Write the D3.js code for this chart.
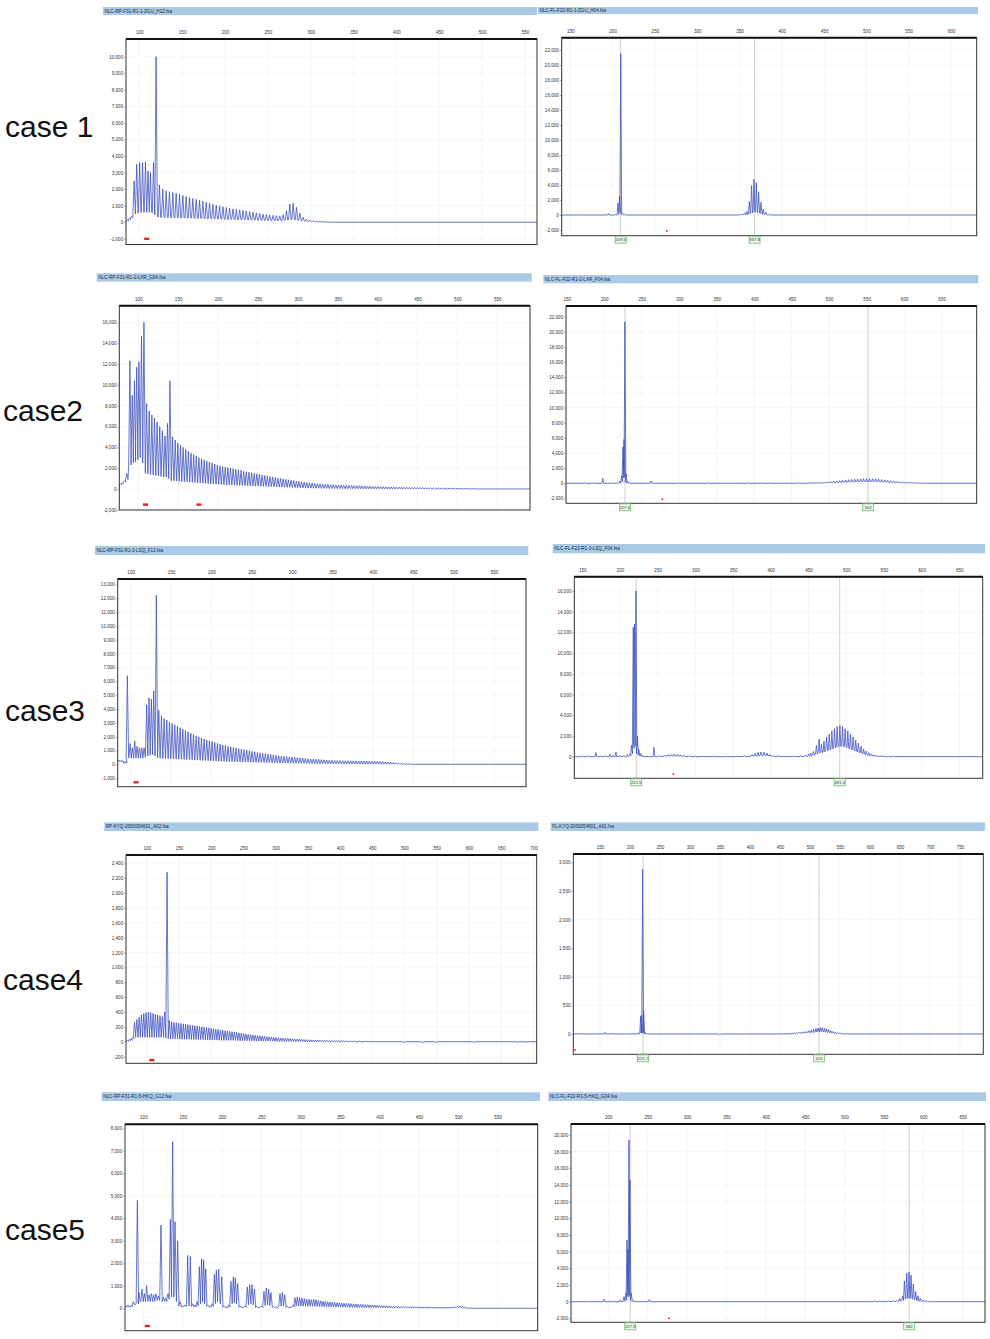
<!DOCTYPE html>
<html>
<head>
<meta charset="utf-8">
<script src="https://cdn.jsdelivr.net/npm/d3@7"></script>
<style>
  body { margin: 0; background: #fff; }
  svg { display: block; font-family: "Liberation Sans", Arial, sans-serif; }
</style>
</head>
<body>
<svg id="chart" width="990" height="1339"></svg>
<script>
// ---- data: peaks as [size (bp), peak height (RFU), floor under the peak (RFU)] ----
const caseLabels = ['case 1', 'case2', 'case3', 'case4', 'case5'];

const titles = [
  'NLC-RP-F31-R1-1-ZGU_H12.fsa', 'NLC-FL-F22-R1-1-ZGU_H04.fsa',
  'NLC-RP-F31-R1-2-LXR_G04.fsa', 'NLC-FL-F22-R1-2-LXR_F04.fsa',
  'NLC-RP-F31-R1-3-LSQ_F12.fsa', 'NLC-FL-F22-R1-3-LSQ_F04.fsa',
  'RP-KYQ-2000054601_A02.fsa', 'FL-KYQ-2000054601_A01.fsa',
  'NLC-RP-F31-R1-5-HKQ_G12.fsa', 'NLC-FL-F22-R1-5-HKQ_G04.fsa',
];

const xDomains = [
  [84.5, 564], [139.8, 630.4], [76.2, 591], [149, 696.7], [83.9, 589.6],
  [139.4, 681], [67.8, 705], [105.5, 788.9], [76.7, 600.8], [152.6, 678.3],
];
const yDomains = [
  [-1343, 11066], [-2760, 23640], [-2020, 17600], [-2640, 23400], [-1617, 13383],
  [-2090, 17380], [-290, 2512], [-355, 3145], [-996, 8178], [-2470, 21300],
];

const xTicks = [
  [100, 150, 200, 250, 300, 350, 400, 450, 500, 550],
  [150, 200, 250, 300, 350, 400, 450, 500, 550, 600],
  [100, 150, 200, 250, 300, 350, 400, 450, 500, 550],
  [150, 200, 250, 300, 350, 400, 450, 500, 550, 600, 650],
  [100, 150, 200, 250, 300, 350, 400, 450, 500, 550],
  [150, 200, 250, 300, 350, 400, 450, 500, 550, 600, 650],
  [100, 150, 200, 250, 300, 350, 400, 450, 500, 550, 600, 650, 700],
  [150, 200, 250, 300, 350, 400, 450, 500, 550, 600, 650, 700, 750],
  [100, 150, 200, 250, 300, 350, 400, 450, 500, 550],
  [200, 250, 300, 350, 400, 450, 500, 550, 600, 650],
];
const yTicks = [
  [-1000, 0, 1000, 2000, 3000, 4000, 5000, 6000, 7000, 8000, 9000, 10000],
  [-2000, 0, 2000, 4000, 6000, 8000, 10000, 12000, 14000, 16000, 18000, 20000, 22000],
  [-2000, 0, 2000, 4000, 6000, 8000, 10000, 12000, 14000, 16000],
  [-2000, 0, 2000, 4000, 6000, 8000, 10000, 12000, 14000, 16000, 18000, 20000, 22000],
  [-1000, 0, 1000, 2000, 3000, 4000, 5000, 6000, 7000, 8000, 9000, 10000, 11000, 12000, 13000],
  [0, 2000, 4000, 6000, 8000, 10000, 12000, 14000, 16000],
  [-200, 0, 200, 400, 600, 800, 1000, 1200, 1400, 1600, 1800, 2000, 2200, 2400],
  [0, 500, 1000, 1500, 2000, 2500, 3000],
  [0, 1000, 2000, 3000, 4000, 5000, 6000, 7000, 8000],
  [-2000, 0, 2000, 4000, 6000, 8000, 10000, 12000, 14000, 16000, 18000, 20000],
];

const c1LPeaks = [
  [86,150,80],[88.5,250,150],[91,350,250],
  [94,2500,500],[97,3500,550],[100.4,3600,600],[103.8,3600,600],[107.2,3650,600],[110.2,3100,600],[113,3000,600],[116.6,3600,550],[119.6,10000,450],
  [123.5,2250,300],[127.4,2000,300],[131.3,1900,290],[135.2,1850,290],[139.1,1800,280],[143,1750,280],[146.9,1700,270],[150.8,1620,270],[154.7,1560,260],[158.6,1500,260],
  [162.5,1440,250],[166.4,1390,240],[170.3,1330,240],[174.2,1270,230],[178.1,1210,220],[182,1150,220],[185.9,1090,210],[189.8,1040,200],[193.7,990,200],[197.6,940,190],
  [201.5,890,180],[205.4,850,180],[209.3,810,170],[213.2,780,160],[217.1,750,160],[221,720,150],[224.9,690,150],[228.8,650,140],[232.7,610,140],[236.6,570,130],
  [240.5,530,130],[244.4,490,120],[248.3,460,120],[252.2,440,110],[256.1,420,110],[260,400,100],[263.9,390,100],[267.8,450,110],[271.7,700,130],[275.6,1100,160],
  [279.5,1150,170],[283.4,900,150],[287.3,550,110],[291.2,300,80],[295.1,180,60],[299,130,40],[302.9,100,30],[306.8,80,20],[310.7,60,20],[314.6,45,10],
  [318.5,30,0],[322.4,20,0],[326.3,10,0],
];
const c1RPeaks = [
  [160,30,0],[176,20,0],[195,200,0],[203,100,0],[206.3,1600,50],[208.2,2500,300],[209.6,21500,400],[211.4,300,50],[214,80,0],
  [350,80,0],[353,150,20],[356,300,40],[358.8,500,60],[361.6,1800,150],[364.3,3900,300],[367.1,4750,400],[369.9,4300,400],[372.6,3100,300],[375.4,1700,200],
  [378.1,800,100],[380.9,400,50],[384,120,10],[388,40,0],
];
const c2LPeaks = [
  [77.5,500,450],[80,600,500],[83,800,650],[85.5,1500,900],
  [89.5,12300,2300],[92.4,9000,2500],[95.2,10400,2600],[98,11700,2800],[100.8,12200,3000],[104,14700,3200],[107.1,16000,2500],
  [110.4,8200,1500],[113.7,7500,1450],[117,7100,1400],[120.3,6800,1350],[123.6,6400,1300],[126.9,6000,1250],[130.2,5600,1200],[133.5,5100,1150],[136.6,6300,1150],[139.7,10400,1000],
  [143,5000,800],[146.3,4700,780],[149.6,4400,760],[152.9,4200,740],[156.2,4000,720],[159.5,3800,700],[162.8,3600,680],[166.1,3450,660],[169.4,3300,640],[172.7,3150,620],
  [176,3000,600],[179.3,2900,580],[182.6,2800,560],[185.9,2700,540],[189.2,2600,520],[192.5,2500,500],[195.8,2400,480],[199.1,2300,460],[202.4,2200,440],[205.7,2150,420],
  [209,2100,400],[212.3,2050,390],[215.6,2000,380],[218.9,1950,370],[222.2,1900,360],[225.5,1850,350],[228.8,1800,340],[232.1,1700,330],[235.4,1650,320],[238.7,1600,310],
  [242,1550,300],[245.3,1500,290],[248.6,1450,280],[251.9,1400,270],[255.2,1350,260],[258.5,1300,250],[261.8,1250,240],[265.1,1200,230],[268.4,1150,220],[271.7,1100,210],
  [275,1050,200],[278.3,1000,190],[281.6,960,180],[284.9,920,170],[288.2,880,160],[291.5,840,150],[294.8,800,140],[298.1,760,130],[301.4,720,120],[304.7,690,110],
  [308,660,100],[311.3,630,100],[314.6,600,90],[317.9,570,90],[321.2,540,80],[324.5,510,80],[327.8,490,70],[331.1,470,70],[334.4,450,60],[337.7,430,60],
  [341,410,50],[344.3,400,50],[347.6,390,50],[350.9,380,40],[354.2,370,40],[357.5,360,40],[360.8,350,30],[364.1,340,30],[367.4,330,30],[370.7,320,30],
  [374,310,30],[377.3,300,20],[380.6,290,20],[383.9,280,20],[387.2,270,20],[390.5,260,20],[393.8,250,20],[397.1,240,20],[400.4,230,20],[403.7,220,20],
  [407,210,10],[410.3,200,10],[413.6,195,10],[416.9,190,10],[420.2,185,10],[423.5,180,10],[426.8,175,10],[430.1,170,10],[433.4,165,10],[436.7,160,10],
  [440,155,10],[443.3,150,10],[446.6,145,10],[449.9,140,10],[453.2,135,0],[456.5,130,0],[459.8,125,0],[463.1,120,0],[466.4,115,0],[469.7,110,0],
  [473,105,0],[476.3,100,0],[479.6,95,0],[482.9,90,0],[486.2,85,0],[489.5,80,0],[492.8,75,0],[496.1,70,0],[499.4,65,0],[502.7,60,0],
  [506,55,0],[509.3,50,0],[512.6,45,0],[515.9,40,0],[519.2,30,0],[522.5,20,0],
];
const c2RPeaks = [
  [174,100,0],[186,50,0],[198,650,0],[210,60,0],[218,80,0],[221,300,20],[223.4,1000,200],[225,4800,700],[226.4,5800,1000],[227.6,21300,800],[229.2,1300,150],[231,300,30],[234,80,0],
  [262.5,300,0],[300,40,0],[339,120,0],[365,60,0],[392,100,0],[410,60,0],[420,50,0],[440,60,0],[460,70,10],
  [476,90,20],[484,110,30],[490,140,40],[494,170,50],[498,200,60],[502,240,70],[506,280,80],[510,320,100],[514,360,120],[518,400,140],
  [522,440,160],[526,480,180],[530,510,200],[534,540,210],[538,560,220],[542,580,230],[546,600,240],[550,600,240],[554,600,240],[558,590,230],
  [562,570,220],[566,540,210],[570,500,190],[574,450,170],[578,400,150],[582,350,130],[586,300,110],[590,250,90],[594,210,80],[598,170,70],
  [602,140,60],[606,110,50],[610,90,40],[614,70,30],[618,60,20],[622,50,10],[626,40,0],[630,30,0],
];
const c3LPeaks = [
  [84.5,300,250],[87,250,200],[89.5,280,200],[92,150,100],[94,200,100],
  [95.9,6400,500],[99.2,1500,450],[102.1,1200,450],[105,1700,450],[107.9,1300,450],[110.8,1200,450],[113.7,1200,450],[116.6,1200,500],
  [119.8,4300,600],[122.7,4800,650],[125.6,4700,700],[128.5,5300,800],[131.8,12200,600],
  [134.8,3900,450],[138.1,3500,440],[141.4,3300,430],[144.7,3200,420],[148,3050,410],[151.3,2950,400],[154.6,2850,390],[157.9,2750,380],[161.2,2650,370],[164.5,2550,360],
  [167.8,2450,350],[171.1,2350,340],[174.4,2250,330],[177.7,2150,320],[181,2050,310],[184.3,1980,300],[187.6,1900,290],[190.9,1830,280],[194.2,1760,270],[197.5,1700,260],
  [200.8,1640,250],[204.1,1580,240],[207.4,1520,230],[210.7,1460,220],[214,1400,210],[217.3,1350,200],[220.6,1300,200],[223.9,1260,190],[227.2,1220,190],[230.5,1180,180],
  [233.8,1140,180],[237.1,1100,170],[240.4,1060,170],[243.7,1020,160],[247,980,160],[250.3,940,150],[253.6,900,150],[256.9,860,140],[260.2,830,140],[263.5,800,130],
  [266.8,770,130],[270.1,740,120],[273.4,710,120],[276.7,680,110],[280,650,110],[283.3,620,100],[286.6,600,100],[289.9,580,100],[293.2,560,90],[296.5,540,90],
  [299.8,520,80],[303.1,500,80],[306.4,480,80],[309.7,460,70],[313,440,70],[316.3,420,70],[319.6,400,60],[322.9,380,60],[326.2,370,60],[329.5,360,50],
  [332.8,350,50],[336.1,340,50],[339.4,320,50],[342.7,310,40],[346,300,40],[349.3,290,40],[352.6,280,40],[355.9,275,40],[359.2,270,30],[362.5,265,30],
  [365.8,260,30],[369.1,255,30],[372.4,255,30],[375.7,250,30],[379,250,30],[382.3,245,20],[385.6,245,20],[388.9,240,20],[392.2,240,20],[395.5,235,20],
  [398.8,230,20],[402.1,225,20],[405.4,220,20],[408.7,210,20],[412,195,10],[415.3,180,10],[418.6,165,10],[421.9,150,10],[425.2,130,10],[428.5,110,10],
  [431.8,90,0],[435.1,70,0],[438.4,50,0],[441.7,40,0],[445,30,0],[448.3,20,0],
];
const c3RPeaks = [
  [150,60,0],[158,100,0],[168,390,0],[175,80,0],[181,100,0],[186.7,250,0],[191,150,0],[194.6,450,0],[200,100,0],[205,120,0],[209.7,200,0],
  [213.5,300,100],[215.4,1100,300],[217.6,12500,800],[219.2,12800,1200],[221.2,16000,1000],[223.2,2000,300],[225,700,150],[227.5,300,50],[230,120,0],
  [245,900,0],[252,100,0],[260,150,50],[264,200,60],[268,220,70],[272,250,70],[276,200,60],[280,180,50],[285,120,30],[292,80,20],[300,60,0],[310,60,0],[325,50,0],[340,40,0],[355,50,0],[365,80,20],
  [375,200,50],[379,330,80],[383,420,100],[387,450,120],[391,430,110],[395,350,90],[399,220,60],[403,120,30],[410,80,20],[420,60,10],[430,70,10],[440,100,20],[446,150,30],[450,250,50],[453,350,80],
  [456.5,500,150],[460.5,1100,250],[464,1700,350],[467.2,1200,400],[470.5,1500,450],[474,1900,550],[477.5,2200,650],[481,2500,750],[484.5,2700,850],[488,2900,950],
  [491.6,3000,1000],[495.1,2900,1000],[498.6,2700,950],[502.1,2500,850],[505.6,2200,750],[509.1,1900,650],[512.6,1600,550],[516.1,1300,450],[519.6,1000,350],[523.1,750,250],
  [526.6,550,180],[530.1,380,120],[533.6,260,80],[537.1,180,50],[541,120,30],[545,90,20],[550,60,10],[556,40,0],[563,30,0],[570,20,0],
];
const c4LPeaks = [
  [70,20,10],[73,30,15],[76,40,20],[78.5,60,40],
  [81,260,60],[84.6,300,60],[88.2,330,60],[91.8,360,60],[95.4,380,60],[99,390,60],[102.6,400,60],[106.2,390,60],[109.8,380,60],[113.4,370,60],
  [117,360,60],[120.6,350,60],[124.2,340,60],[127.8,400,60],[131.5,2280,50],
  [135.1,290,40],[138.7,270,40],[142.3,260,40],[145.9,255,40],[149.5,250,40],[153.1,245,35],[156.7,240,35],[160.3,235,35],[163.9,230,35],[167.5,225,35],
  [171.1,220,30],[174.7,215,30],[178.3,210,30],[181.9,205,30],[185.5,200,30],[189.1,195,30],[192.7,190,25],[196.3,185,25],[199.9,180,25],[203.5,175,25],
  [207.1,170,25],[210.7,165,25],[214.3,160,20],[217.9,155,20],[221.5,150,20],[225.1,145,20],[228.7,140,20],[232.3,135,20],[235.9,130,20],[239.5,125,20],
  [243.1,120,15],[246.7,115,15],[250.3,110,15],[253.9,105,15],[257.5,100,15],[261.1,96,15],[264.7,92,15],[268.3,88,10],[271.9,84,10],[275.5,80,10],
  [279.1,76,10],[282.7,72,10],[286.3,68,10],[289.9,65,10],[293.5,62,10],[297.1,59,10],[300.7,56,5],[304.3,53,5],[307.9,50,5],[311.5,48,5],
  [315.1,46,5],[318.7,44,5],[322.3,42,5],[325.9,40,5],[329.5,38,5],[333.1,36,5],[336.7,34,5],[340.3,32,5],[343.9,30,5],[347.5,28,0],
  [351.1,26,0],[354.7,25,0],[358.3,24,0],[361.9,23,0],[365.5,22,0],[369.1,21,0],[372.7,20,0],[376.3,19,0],[379.9,18,0],[383.5,17,0],
  [387.1,16,0],[390.7,15,0],[394.3,15,0],[397.9,14,0],[401.5,14,0],[405.1,13,0],[410,12,0],[416,11,0],[422,10,0],[430,10,0],[440,8,0],[448,6,0],
  [500,-10,0],[528,-15,0],[548,-10,0],[608,-10,0],[675,-8,0],[690,-6,0],
];
const c4RPeaks = [
  [120,10,0],[140,8,0],[158.3,30,0],[170,10,0],[190,8,0],[205,10,0],[214,20,0],[217.8,310,20],[219.4,330,20],[221.1,2880,30],[222.8,400,20],[224.6,40,0],[230,10,0],
  [300,8,0],[330,-8,0],[349,-12,0],[352,-10,0],[390,-6,0],[450,8,0],
  [470,15,5],[474,20,8],[478,25,10],[482,30,12],[486,35,15],[490,40,18],[494,45,20],[498,55,22],[502,65,25],[506,80,30],[510,95,35],
  [513.5,105,40],[517,110,40],[520.5,110,40],[524,100,35],[527.5,90,30],[531,75,25],[534.5,60,20],[538,45,15],[542,35,10],[546,25,8],[550,20,5],[555,15,0],[562,10,0],[570,5,0],
  [610,6,0],[680,6,0],[760,6,0],
];
const c5LPeaks = [
  [78,100,60],[80.5,150,80],[83,90,60],[85,120,80],[87.3,300,150],[92.4,4800,200],[94.5,700,300],[98.3,850,300],[101.3,650,300],[104.2,1000,300],
  [107.2,600,300],[110.2,650,300],[113.1,600,300],[116,650,350],[119,550,350],[122.4,3700,400],[125.4,500,300],[128.4,450,300],[131.3,650,400],
  [134.3,3950,500],[137.2,7400,600],[140.2,3850,500],[143.6,3000,300],[146.6,300,100],[149.5,100,60],[152.9,150,80],[156.3,2350,100],[159.7,2300,100],[162.6,200,80],[165.6,150,60],[168.2,300,100],
  [171.1,1850,200],[174,2200,300],[176.6,2150,300],[179.2,1750,200],[181.7,150,80],[185,100,50],[187.6,200,80],[190.2,1500,200],[192.7,1700,300],[195.7,1750,300],[199.5,1400,200],[202.4,100,50],[205.8,50,30],[208.4,150,60],
  [211.3,1200,200],[214.3,1400,250],[216.8,1350,250],[219.8,1100,200],[222.8,100,50],[225.7,50,30],[229,100,50],[232,950,150],[235,1050,200],[238,1050,200],[241,850,150],[243.9,80,40],[246.9,50,30],[250.3,100,40],
  [253.2,750,120],[256.2,900,150],[259.2,850,150],[262.1,700,120],[265.1,80,40],[269.3,50,30],[273.5,650,100],[276.5,700,120],[279.5,600,100],[282.4,100,40],[286.2,50,30],[290.5,150,60],
  [292.6,470,100],[295.6,500,110],[298.5,480,110],[301.5,450,100],[304.5,430,100],[307.4,400,100],[310.4,400,90],[313.3,380,90],[316.3,400,90],[319.3,380,90],
  [322.2,350,80],[325.2,330,80],[328.2,320,80],[331.1,300,70],[334.1,290,70],[337,280,70],[340,270,60],[343,260,60],[346,250,60],[348.9,240,60],
  [351.9,230,50],[354.9,225,50],[357.9,220,50],[360.9,210,50],[363.9,205,40],[366.9,200,40],[369.9,190,40],[372.9,180,40],[375.9,175,40],[378.9,170,40],
  [381.9,160,30],[384.9,155,30],[387.9,150,30],[390.9,145,30],[393.9,140,30],[396.9,130,30],[399.9,125,30],[402.9,120,30],[405.9,115,20],[408.9,110,20],
  [411.9,100,20],[414.9,95,20],[417.9,90,20],[420.9,88,20],[423.9,85,20],[426.9,80,20],[429.9,78,20],[432.9,75,20],[435.9,72,20],[438.9,70,20],
  [441.9,66,20],[444.9,62,20],[447.9,60,20],[450.9,56,20],[453.9,52,20],[456.9,50,20],[459.9,48,20],[462.9,45,20],[465.9,42,20],[468.9,40,20],
  [471.9,38,20],[474.9,36,20],[477.9,34,20],[480.9,32,20],[483.9,30,20],[486.9,30,20],[490,40,20],[493,50,20],[496,70,20],[499,90,30],[502,100,30],[505,80,20],[508,50,10],[512,20,0],[516,10,0],
];
const c5RPeaks = [
  [160,20,0],[175,15,0],[194.5,280,0],[205,30,0],[214.8,200,0],[219.9,600,50],[222.4,1000,200],[223.7,7400,600],[225,6300,800],[226.2,19400,900],[227.5,14600,600],[229.2,1000,150],[230.9,200,30],[234,50,0],
  [252,250,0],[300,20,0],[400,15,0],[500,15,0],
  [532,60,0],[538,80,10],[544,70,10],[550,90,20],[556,100,20],[562,120,30],[566,150,40],[570,400,80],[573.8,700,150],[576,2500,300],
  [578.9,3400,400],[581.8,3550,400],[584.4,3200,400],[587.3,2100,300],[590.3,1200,200],[593.2,700,120],[596.2,400,80],[600,200,40],[604,100,20],[609,50,0],[615,20,0],
];

// size-call markers (right-hand panels)
const markers = [
  [], [[209.6, '209.6'], [367.8, '367.8']],
  [], [[227.6, '227.6'], [552, '552']],
  [], [[221.5, '221.5'], [491.4, '491.4']],
  [], [[221.7, '221.7'], [515, '515']],
  [], [[227.8, '227.8'], [582, '582']],
];
// red bin marks under the trace
const redMarks = [
  [[108.6, -1000]], [[264, -2130]],
  [[109, -1500], [176, -1500]], [[277.5, -2100]],
  [[106.6, -1300]], [[270.7, -1670]],
  [[107.8, -247]], [[108.3, -280]],
  [[105, -785]], [[277, -2000]],
];

const peakSets = [c1LPeaks, c1RPeaks, c2LPeaks, c2RPeaks, c3LPeaks, c3RPeaks, c4LPeaks, c4RPeaks, c5LPeaks, c5RPeaks];

// ---- layout: plot frames and title bars, in page pixels ----
const frames = [
  { l: 126, t: 39, r: 537, b: 244.5, bar: [103, 7, 537, 15] },
  { l: 561.7, t: 37.7, r: 976.7, b: 235.7, bar: [538, 7, 978, 14] },
  { l: 119.3, t: 305.7, r: 530, b: 510, bar: [96.7, 273.3, 531.7, 281.7] },
  { l: 566, t: 306, r: 976.7, b: 503.3, bar: [543.3, 275, 978.3, 283.3] },
  { l: 117.7, t: 579, r: 526, b: 786.7, bar: [95, 546, 528.3, 555] },
  { l: 574.3, t: 576.7, r: 982.7, b: 778.3, bar: [552.7, 544, 985, 553.3] },
  { l: 126, t: 855, r: 536.7, b: 1063.3, bar: [104.3, 822.3, 538.3, 831] },
  { l: 573.3, t: 854, r: 983.3, b: 1054.3, bar: [550.7, 822.3, 985, 831] },
  { l: 125, t: 1124.3, r: 537.7, b: 1330.7, bar: [101.7, 1092.3, 540, 1101] },
  { l: 571, t: 1124, r: 985, b: 1322.3, bar: [548.3, 1092.3, 986, 1101] },
];
const labelPos = [[5, 137], [3, 421], [5, 721], [3, 990], [5, 1240]];

const traceColor = '#3a4dbe';
const fmt = (d) => d3.format(',')(d).replace('\u2212', '-');

const svg = d3.select('#chart');
svg.append('rect').attr('width', 990).attr('height', 1339).attr('fill', '#fff');

svg.selectAll('text.case')
  .data(caseLabels)
  .join('text')
  .attr('class', 'case')
  .attr('x', (d, i) => labelPos[i][0])
  .attr('y', (d, i) => labelPos[i][1])
  .attr('font-size', 30)
  .attr('fill', '#111')
  .text((d) => d);

function drawPanel(i) {
  const f = frames[i];
  const right = i % 2 === 1;
  const g = svg.append('g');

  const x = d3.scaleLinear().domain(xDomains[i]).range([f.l, f.r]);
  const y = d3.scaleLinear().domain(yDomains[i]).range([f.b, f.t]);

  // title bar
  const [bx0, by0, bx1, by1] = f.bar;
  g.append('rect')
    .attr('x', bx0).attr('y', by0)
    .attr('width', bx1 - bx0).attr('height', by1 - by0)
    .attr('fill', '#a9c9e7');
  g.append('text')
    .attr('x', bx0 + 1.5).attr('y', (by0 + by1) / 2 + 1.6)
    .attr('font-size', 4.6).attr('fill', '#1c2a44')
    .text(titles[i]);

  // faint grid
  g.append('g')
    .selectAll('line')
    .data(xTicks[i])
    .join('line')
    .attr('x1', (d) => x(d)).attr('x2', (d) => x(d))
    .attr('y1', f.t).attr('y2', f.b)
    .attr('stroke', '#efefef').attr('stroke-width', 0.6);
  g.append('g')
    .selectAll('line')
    .data(yTicks[i])
    .join('line')
    .attr('x1', f.l).attr('x2', f.r)
    .attr('y1', (d) => y(d)).attr('y2', (d) => y(d))
    .attr('stroke', '#f3f3f3').attr('stroke-width', 0.6);

  // marker guide lines
  g.append('g')
    .selectAll('line')
    .data(markers[i])
    .join('line')
    .attr('x1', (d) => x(d[0])).attr('x2', (d) => x(d[0]))
    .attr('y1', f.t + 1).attr('y2', f.b)
    .attr('stroke', '#cfcfcf').attr('stroke-width', 1);

  // trace
  const clipId = `clip${i}`;
  g.append('clipPath').attr('id', clipId)
    .append('rect')
    .attr('x', f.l).attr('y', f.t)
    .attr('width', f.r - f.l).attr('height', f.b - f.t);

  const hw = right ? 0.9 : 1.25;
  const pts = [[f.l, y(0)]];
  peakSets[i].forEach(([bp, top, floor]) => {
    pts.push([x(bp) - hw, y(floor)], [x(bp), y(top)], [x(bp) + hw, y(floor)]);
  });
  pts.push([f.r, y(0)]);

  g.append('path')
    .attr('clip-path', `url(#${clipId})`)
    .attr('d', d3.line()(pts))
    .attr('fill', 'none')
    .attr('stroke', traceColor)
    .attr('stroke-opacity', 0.9)
    .attr('stroke-width', 0.85)
    .attr('stroke-linejoin', 'round');

  // red bin marks
  g.append('g')
    .selectAll('rect')
    .data(redMarks[i])
    .join('rect')
    .attr('x', (d) => x(d[0]) - (right ? 0.8 : 2.5))
    .attr('y', (d) => y(d[1]) - (right ? 0.8 : 1.2))
    .attr('width', right ? 1.6 : 5)
    .attr('height', right ? 1.6 : 2.4)
    .attr('fill', '#e3211c');

  // frame
  g.append('rect')
    .attr('x', f.l).attr('y', f.t)
    .attr('width', f.r - f.l).attr('height', f.b - f.t)
    .attr('fill', 'none').attr('stroke', '#333').attr('stroke-width', 1);
  g.append('line')
    .attr('x1', f.l).attr('x2', f.r)
    .attr('y1', f.t).attr('y2', f.t)
    .attr('stroke', '#111').attr('stroke-width', 2);

  // axes
  const xAxis = g.append('g')
    .attr('transform', `translate(0,${f.t - 1})`)
    .call(d3.axisTop(x).tickValues(xTicks[i]).tickSize(0).tickPadding(4));
  const yAxis = g.append('g')
    .attr('transform', `translate(${f.l - 0.5},0)`)
    .call(d3.axisLeft(y).tickValues(yTicks[i]).tickFormat(fmt).tickSize(1.5).tickPadding(0.8));

  [xAxis, yAxis].forEach((a) => {
    a.select('.domain').remove();
    a.selectAll('.tick text')
      .attr('font-size', 4.6)
      .attr('font-family', '"Liberation Sans", Arial, sans-serif')
      .attr('fill', '#333');
    a.selectAll('.tick line').attr('stroke', '#555').attr('stroke-width', 0.5);
  });

  // size-call boxes under the frame
  const mk = g.append('g')
    .selectAll('g')
    .data(markers[i])
    .join('g')
    .attr('transform', (d) => `translate(${x(d[0])},${f.b})`);
  mk.append('rect')
    .attr('x', -5.5).attr('y', 0.5)
    .attr('width', 11).attr('height', 7)
    .attr('fill', '#eef7ee').attr('stroke', '#6cbf6c').attr('stroke-width', 0.8);
  mk.append('text')
    .attr('y', 5.8)
    .attr('text-anchor', 'middle')
    .attr('font-size', 4.2).attr('fill', '#333')
    .text((d) => d[1]);
}

peakSets.forEach((_, i) => drawPanel(i));
</script>
</body>
</html>
